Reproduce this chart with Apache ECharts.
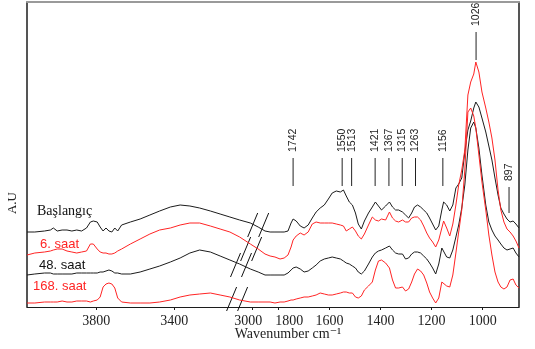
<!DOCTYPE html>
<html>
<head>
<meta charset="utf-8">
<script src="https://cdn.jsdelivr.net/npm/echarts@6/dist/echarts.min.js"></script>
<style>
  html, body { margin: 0; padding: 0; background: #fff; }
  #chart { width: 535px; height: 349px; }
</style>
</head>
<body>
<div id="chart"></div>
<script>
// wavenumbers (cm-1) sampled on the high side (left of the break)
var wnLeft = [4155, 4115, 4065, 4035, 4020, 4000, 3975, 3950, 3925, 3900, 3875, 3850, 3830, 3815, 3795,
  3780, 3765, 3750, 3735, 3720, 3705, 3690, 3670, 3625, 3575, 3525, 3475, 3420, 3370, 3320, 3270, 3215,
  3165, 3115, 3065, 3010, 2970, 2935]
// wavenumbers on the fingerprint side (right of the break)
var wnRight = [1852, 1832, 1813, 1793, 1777, 1762, 1750, 1742, 1730, 1714, 1699, 1683, 1667, 1652, 1636,
  1620, 1604, 1589, 1573, 1557, 1545, 1534, 1522, 1510, 1498, 1487, 1475, 1463, 1447, 1432, 1420, 1408,
  1396, 1380, 1365, 1353, 1341, 1329, 1314, 1302, 1290, 1278, 1267, 1255, 1243, 1231, 1219, 1208, 1196,
  1184, 1172, 1160, 1153, 1141, 1129, 1117, 1105, 1094, 1082, 1070, 1058, 1047, 1035, 1027, 1015, 1003,
  988, 976, 964, 952, 940, 929, 917, 905, 893, 881, 870, 858]

// absorbance, arbitrary units (traces are offset as in the figure)
var baslangicLeft = [75, 75, 76, 77, 79, 76, 77, 77, 76, 77, 76, 79, 85, 86, 85, 80, 76, 79, 76, 75, 79, 76,
  82, 85, 88, 92, 96, 100, 102, 101, 99, 96, 93, 90, 87, 84, 80, 76]
var saat6Left = [52, 54, 55, 56, 57, 58, 58, 56, 55, 54, 55, 56, 63, 63, 58, 55, 54, 54, 53, 53, 54, 56,
  58, 63, 68, 73, 77, 79, 82, 84, 84, 81, 78, 75, 70, 63, 58, 53]
var saat48Left = [32, 33, 34, 34, 33, 33, 33, 33, 33, 34, 34, 34, 34, 34, 34, 35, 35, 36, 37, 36, 34, 34,
  33, 33, 35, 38, 41, 45, 49, 54, 57, 55, 51, 47, 43, 38, 35, 32]
var saat168Left = [4, 4, 5, 5, 5, 5, 6, 5, 5, 6, 6, 6, 5, 6, 7, 10, 20, 23, 24, 23, 19, 9, 5, 4, 4, 4,
  5, 7, 10, 12, 13, 14, 12, 10, 7, 5, 5, 5]

var baslangicRight = [76, 75, 75, 75, 75, 76, 84, 88, 86, 81, 79, 82, 89, 95, 99, 102, 108, 114, 116, 115,
  117, 111, 105, 102, 94, 83, 78, 86, 94, 100, 105, 101, 97, 101, 105, 100, 97, 97, 95, 92, 89, 94, 100,
  102, 100, 97, 94, 89, 83, 77, 81, 97, 105, 102, 96, 102, 119, 123, 129, 155, 177, 186, 199, 205, 200,
  189, 175, 161, 147, 129, 112, 99, 93, 88, 85, 86, 83, 79]
var saat6Right = [53, 51, 50, 48, 49, 52, 60, 67, 71, 74, 72, 75, 83, 85, 84, 84, 84, 84, 83, 82, 81, 76,
  78, 80, 76, 71, 68, 73, 82, 90, 87, 86, 88, 87, 95, 89, 86, 85, 87, 85, 85, 89, 90, 90, 87, 81, 74, 69,
  65, 60, 67, 79, 86, 79, 71, 83, 102, 122, 137, 157, 212, 225, 233, 245, 235, 215, 199, 185, 169, 147,
  117, 97, 85, 78, 75, 71, 66, 59]
var saat48Right = [32, 32, 32, 32, 32, 34, 37, 39, 40, 38, 35, 36, 39, 42, 46, 48, 49, 50, 49, 48, 46, 44,
  43, 41, 39, 35, 33, 36, 43, 50, 54, 56, 57, 59, 61, 57, 54, 53, 53, 48, 49, 53, 55, 55, 54, 51, 48, 44,
  39, 33, 43, 59, 57, 50, 49, 57, 70, 82, 99, 122, 157, 179, 185, 179, 159, 132, 102, 85, 77, 71, 67, 63,
  59, 57, 58, 59, 54, 50]
var saat168Right = [5, 5, 4, 5, 5, 6, 7, 7, 8, 9, 10, 10, 11, 12, 14, 13, 12, 12, 13, 14, 15, 15, 14, 14,
  10, 9, 11, 17, 21, 25, 37, 46, 47, 44, 39, 27, 19, 19, 20, 16, 18, 25, 33, 38, 36, 32, 24, 15, 9, 4, 9,
  25, 27, 21, 20, 32, 54, 75, 97, 137, 195, 199, 191, 179, 152, 125, 97, 72, 52, 35, 25, 20, 18, 20, 27,
  28, 22, 19]

// assigned bands
var peakWn = [1742, 1550, 1513, 1421, 1367, 1315, 1263, 1156, 1026, 897]

var traceNames = ['Başlangıç', '6. saat', '48. saat', '168. saat']
var ticksLeft = [3800, 3400, 3000]
var ticksRight = [1800, 1600, 1400, 1200, 1000]
// break marks, one pair per trace
var breakWn = [2970, 3006, 3058, 3078]
var breakAu = [82, 58, 42, 8]

var BLACK = '#1c1c1c'
var RED = '#ff2424'
var serif = '"Liberation Serif", "DejaVu Serif", serif'

// where the marker line of each band sits (lower, upper), text goes above it
function peakSpan(wn) {
    if (wn === 1026) return [247, 275]
    if (wn === 897) return [94, 120]
    return [121, 149]
}

function pairs(wn, vals) {
    return wn.map(function (w, i) { return [w, vals[i]] })
}

var myChart = echarts.init(document.getElementById('chart'), null, { renderer: 'canvas' })

function lineSeries(name, color, side, vals) {
    return {
        name: name,
        type: 'line',
        xAxisIndex: side,
        yAxisIndex: side,
        data: pairs(side === 0 ? wnLeft : wnRight, vals),
        showSymbol: false,
        symbol: 'none',
        lineStyle: { color: color, width: 1 },
        silent: true
    }
}

// the two labels next to the break are pushed apart, as in the figure
var labelRich = {
    l: { padding: [0, 8, 0, 0] },
    r: { padding: [0, 0, 0, 22] }
}

function bottomAxis(grid, min, max, ticks) {
    return {
        type: 'value',
        gridIndex: grid,
        inverse: true,
        min: min,
        max: max,
        splitLine: { show: false },
        axisLine: { lineStyle: { color: BLACK, width: 1 } },
        axisTick: { length: 3, customValues: ticks, lineStyle: { color: BLACK } },
        axisLabel: {
            customValues: ticks, color: '#222', fontFamily: serif, fontSize: 14, margin: 7,
            rich: labelRich,
            formatter: function (v) {
                if (v === 3000) return '{l|3000}'
                if (v === 1800) return '{r|1800}'
                return String(v)
            }
        }
    }
}

function topAxis(grid, min, max) {
    return {
        type: 'value', gridIndex: grid, position: 'top', inverse: true, min: min, max: max,
        axisLine: { lineStyle: { color: '#9a9a9a', width: 2 } }, axisTick: { show: false },
        axisLabel: { show: false }, splitLine: { show: false }
    }
}

var option = {
    animation: false,
    backgroundColor: '#fff',
    grid: [
        { left: 27, top: 2, width: 238, height: 305 },
        { left: 265, top: 2, width: 254, height: 305 }
    ],
    xAxis: [
        bottomAxis(0, 2935, 4155, ticksLeft),
        bottomAxis(1, 858, 1852, ticksRight),
        topAxis(0, 2935, 4155),
        topAxis(1, 858, 1852)
    ],
    yAxis: [
        { type: 'value', gridIndex: 0, min: 0, max: 305,
          axisLine: { show: true, lineStyle: { color: BLACK, width: 1.5 } },
          axisTick: { show: false }, axisLabel: { show: false }, splitLine: { show: false } },
        { type: 'value', gridIndex: 1, min: 0, max: 305, position: 'right',
          axisLine: { show: true, lineStyle: { color: BLACK, width: 1.5 } },
          axisTick: { show: false }, axisLabel: { show: false }, splitLine: { show: false } }
    ],
    series: [
        lineSeries(traceNames[0], BLACK, 0, baslangicLeft),
        lineSeries(traceNames[0], BLACK, 1, baslangicRight),
        lineSeries(traceNames[1], RED, 0, saat6Left),
        lineSeries(traceNames[1], RED, 1, saat6Right),
        lineSeries(traceNames[2], BLACK, 0, saat48Left),
        lineSeries(traceNames[2], BLACK, 1, saat48Right),
        lineSeries(traceNames[3], RED, 0, saat168Left),
        lineSeries(traceNames[3], RED, 1, saat168Right),
        {
            // band markers
            type: 'custom',
            xAxisIndex: 1,
            yAxisIndex: 1,
            clip: false,
            silent: true,
            data: peakWn.map(function (w) { var s = peakSpan(w); return [w, s[0], s[1]] }),
            renderItem: function (params, api) {
                var w = api.value(0)
                var lo = api.coord([w, api.value(1)])
                var hi = api.coord([w, api.value(2)])
                return {
                    type: 'group',
                    children: [
                        { type: 'line', shape: { x1: lo[0], y1: lo[1], x2: hi[0], y2: hi[1] },
                          style: { stroke: '#222', lineWidth: 1 } },
                        { type: 'text', x: hi[0], y: hi[1] - 6, rotation: Math.PI / 2,
                          style: { text: String(w), fill: '#222', align: 'left', verticalAlign: 'middle',
                                   font: '10.5px "Liberation Sans Narrow", "Liberation Sans", sans-serif' } }
                    ]
                }
            }
        },
        {
            // axis break marks across each trace
            type: 'custom',
            xAxisIndex: 0,
            yAxisIndex: 0,
            clip: false,
            silent: true,
            data: breakWn.map(function (w, i) { return [w, breakAu[i]] }),
            renderItem: function (params, api) {
                var c = api.coord([api.value(0), api.value(1)])
                var kids = [-5.5, 5.5].map(function (off) {
                    return { type: 'line',
                        shape: { x1: c[0] + off - 5, y1: c[1] + 12, x2: c[0] + off + 5, y2: c[1] - 12 },
                        style: { stroke: '#111', lineWidth: 1 } }
                })
                return { type: 'group', children: kids }
            }
        }
    ],
    graphic: [
        { type: 'text', left: 37, top: 204, style: { text: traceNames[0], fill: '#111', font: '14px ' + serif } },
        { type: 'text', left: 40, top: 238, style: { text: traceNames[1], fill: RED, font: '13px "Liberation Sans", sans-serif' } },
        { type: 'text', left: 39, top: 259, style: { text: traceNames[2], fill: '#111', font: '13px "Liberation Sans", sans-serif' } },
        { type: 'text', left: 33, top: 280, style: { text: traceNames[3], fill: RED, font: '13px "Liberation Sans", sans-serif' } },
        { type: 'text', x: 13, y: 203, rotation: Math.PI / 2,
          style: { text: 'A.U', fill: '#222', font: '13px ' + serif, align: 'center', verticalAlign: 'middle' } },
        { type: 'text', x: 288, y: 334,
          style: { text: 'Wavenumber cm⁻¹', fill: '#222', font: '14px ' + serif, align: 'center', verticalAlign: 'middle' } }
    ]
}

myChart.setOption(option)
</script>
</body>
</html>
